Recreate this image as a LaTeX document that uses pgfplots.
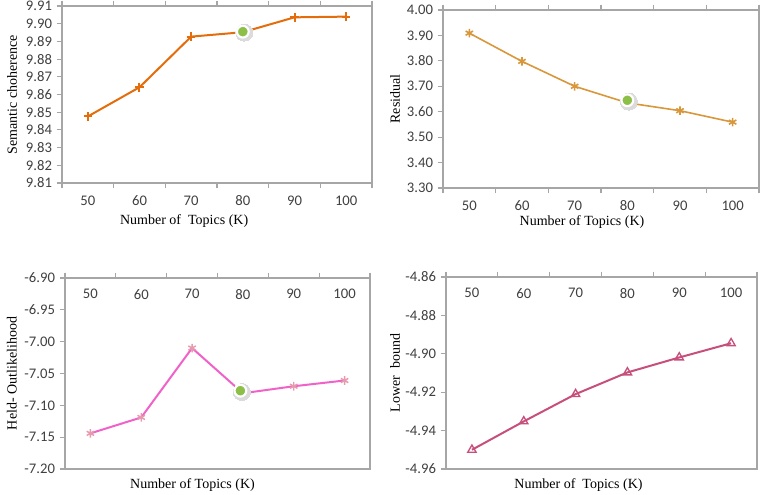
\documentclass[border=0pt]{standalone}
\usepackage{fontspec}
\setmainfont{Liberation Serif}
\newfontfamily\tickfont{Carlito}
\usepackage{pgfplots}
\pgfplotsset{compat=1.18}
\definecolor{frameGray}{HTML}{A6A6A6}
\definecolor{tickText}{HTML}{404040}
\definecolor{cohOrange}{HTML}{E46C0A}
\definecolor{resTan}{HTML}{D9973B}
\definecolor{heldPink}{HTML}{F062C8}
\definecolor{heldMark}{HTML}{E79AAE}
\definecolor{lbRose}{HTML}{C74F7C}
\definecolor{pickGreen}{HTML}{8CBF48}
\pgfplotsset{
  panel/.style={
    scale only axis, xmin=-0.5, xmax=5.5,
    xtick={0,...,5}, xticklabels={50,60,70,80,90,100},
    minor xtick={-0.5,0.5,...,5.5},
    every major x tick/.style={draw=none},
    tick align=outside, major tick length=4pt, minor tick length=4pt,
    ytick pos=left,
    axis line style={frameGray, line width=1pt},
    tick style={frameGray, line width=0.8pt},
    tick label style={font=\tickfont\fontsize{11}{12}\selectfont, text=tickText},
    /pgf/number format/assume math mode=true,
    yticklabel style={/pgf/number format/fixed, /pgf/number format/fixed zerofill,
      /pgf/number format/precision=2},
    xticklabel style={yshift=-2pt},
    label style={font=\fontsize{10.5}{12}\selectfont},
    every axis plot/.append style={line width=1.5pt},
    ylabel style={anchor=center},
    xlabel style={anchor=center},
  },
  upperx/.style={xtick pos=upper, xticklabel pos=upper,
    xticklabel style={anchor=north, yshift=-7pt}},
  pick/.style={only marks, mark=*, color=white, mark size=4.4pt, line width=1.6pt,
    mark options={fill=pickGreen, draw=white}},
  pickshadow/.style={only marks, mark=*, color=black!14, mark size=6.4pt, line width=0pt,
    mark options={fill=black!14, draw=black!14}},
}
\begin{document}
\begin{tikzpicture}
\path[use as bounding box] (0,0) rectangle (573pt,-370.5pt);

% semantic coherence
\begin{axis}[panel, at={(46.5pt,-137.25pt)}, anchor=south west,
    width=232.5pt, height=132.75pt,
    ymin=9.81, ymax=9.91, ytick={9.81,9.82,...,9.915},
    ylabel={Semantic choherence}, xlabel={Number of\ \ Topics (K)},
    ylabel style={at={(axis description cs:-0.161,0.5)}},
    xlabel style={at={(axis description cs:0.394,-0.215)}}]
  \addplot[color=cohOrange, mark=+, mark size=3.2pt] coordinates {
    (0,9.8476) (1,9.8641) (2,9.8927) (3,9.8952) (4,9.9036) (5,9.9040)};
  \addplot[pickshadow] coordinates {(3.03,9.8950)};
  \addplot[pick] coordinates {(3,9.8955)};
\end{axis}

% residual
\begin{axis}[panel, at={(332.25pt,-141pt)}, anchor=south west,
    width=237pt, height=133.5pt,
    ymin=3.30, ymax=4.00, ytick={3.3,3.4,...,4.05},
    ylabel={Residual}, xlabel={Number of Topics (K)},
    ylabel style={at={(axis description cs:-0.152,0.5)}},
    xlabel style={at={(axis description cs:0.44,-0.191)}},
    every axis plot/.append style={line width=1.2pt}]
  \addplot[color=resTan, mark=asterisk, mark size=3.2pt] coordinates {
    (0,3.909) (1,3.798) (2,3.700) (3,3.635) (4,3.604) (5,3.559)};
  \addplot[pickshadow] coordinates {(3.03,3.640)};
  \addplot[pick] coordinates {(3,3.645)};
\end{axis}

% held-out likelihood
\begin{axis}[panel, upperx, at={(48.75pt,-351.75pt)}, anchor=south west,
    width=228.75pt, height=143.25pt,
    ymin=-7.20, ymax=-6.90, ytick={-7.2,-7.15,...,-6.89},
    ylabel={Held- Outlikelihood}, xlabel={Number of Topics (K)},
    ylabel style={at={(axis description cs:-0.174,0.5)}},
    xlabel style={at={(axis description cs:0.418,-0.084)}}]
  \addplot[color=heldPink, mark=asterisk, mark size=3.2pt,
    mark options={heldMark, line width=1.1pt}] coordinates {
    (0,-7.144) (1,-7.119) (2,-7.010) (3,-7.081) (4,-7.070) (5,-7.061)};
  \addplot[pickshadow] coordinates {(2.98,-7.079)};
  \addplot[pick] coordinates {(2.95,-7.077)};
\end{axis}

% lower bound
\begin{axis}[panel, upperx, at={(334.5pt,-351.75pt)}, anchor=south west,
    width=233.25pt, height=144pt,
    ymin=-4.96, ymax=-4.86, ytick={-4.96,-4.94,...,-4.855},
    ylabel={Lower\ \ bound}, xlabel={Number of\ \ Topics (K)},
    ylabel style={at={(axis description cs:-0.164,0.5)}},
    xlabel style={at={(axis description cs:0.426,-0.083)}}]
  \addplot[color=lbRose, mark=triangle, mark size=3.6pt,
    mark options={fill=white, line width=1pt}] coordinates {
    (0,-4.9500) (1,-4.9352) (2,-4.9210) (3,-4.9097) (4,-4.9019) (5,-4.8945)};
  \node[anchor=south, font=\tickfont\fontsize{7}{8}\selectfont, text=tickText]
    at (axis description cs:0.01,1) {10\^{}7};
\end{axis}
\end{tikzpicture}
\end{document}
